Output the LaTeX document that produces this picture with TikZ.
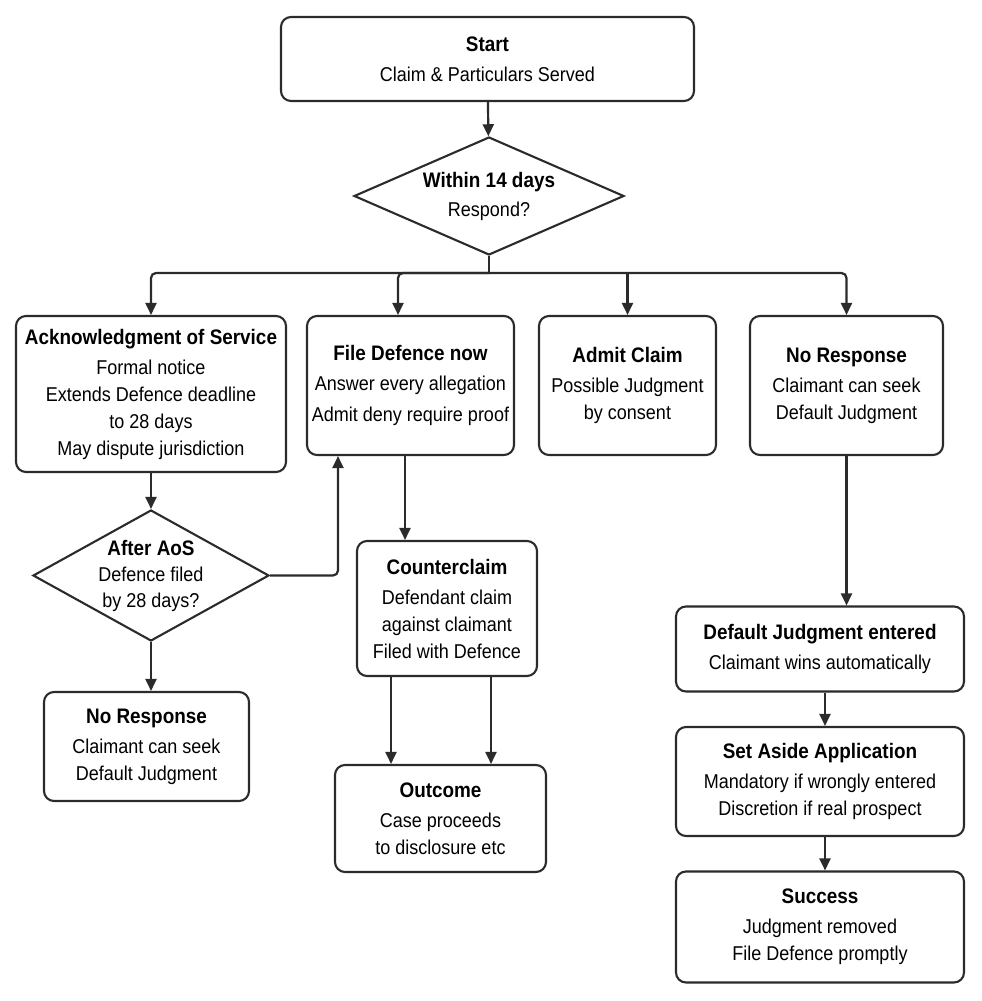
\documentclass[tikz,border=0pt]{standalone}
\usepackage{fontspec}
\setmainfont{Liberation Sans}[FakeStretch=0.9]
\usetikzlibrary{shapes.geometric,arrows.meta}

\definecolor{linecol}{HTML}{2B2B2B}
\newcommand{\hd}[1]{{\bfseries\fontsize{21}{27}\selectfont #1}\\[3pt]}

\tikzset{
    box/.style={rectangle, draw=linecol, line width=2.1pt, rounded corners=10pt, fill=white,
        align=center, inner sep=0pt, font=\fontsize{20}{27}\selectfont},
    decision/.style={diamond, draw=linecol, line width=2.1pt, fill=white,
        align=center, inner sep=0pt, font=\fontsize{20}{26}\selectfont},
    line/.style={draw=linecol, line width=2.2pt},
    arrow/.style={line, -{Triangle[length=12pt,width=11pt]}}
}

\begin{document}
\begin{tikzpicture}[x=1pt, y=-1pt]
    \useasboundingbox[fill=white] (0,0) rectangle (982,1001);

    \node[box, minimum width=413pt, minimum height=84pt] (start) at (487.5, 59) {\hd{Start}Claim \& Particulars Served};
    \node[decision, aspect=2.3, minimum width=270pt, minimum height=118pt] (within) at (489, 196) {\hd{Within 14 days}Respond?};

    \node[box, minimum width=270pt, minimum height=156pt] (aos) at (151, 394) {\hd{Acknowledgment of Service}Formal notice\\Extends Defence deadline\\to 28 days\\May dispute jurisdiction};
    \node[box, minimum width=207pt, minimum height=139pt] (defence) at (410.5, 385.5) {\hd{File Defence now}Answer every allegation\\[4pt]Admit deny require proof};
    \node[box, minimum width=177pt, minimum height=139pt] (admit) at (627.5, 385.5) {\hd{Admit Claim}Possible Judgment\\by consent};
    \node[box, minimum width=193pt, minimum height=139pt] (noresp) at (846.5, 385.5) {\hd{No Response}Claimant can seek\\Default Judgment};

    \node[decision, aspect=1.8, minimum width=236pt, minimum height=131pt] (after) at (151, 575.5) {{\bfseries\fontsize{21}{26}\selectfont After AoS}\\Defence filed\\by 28 days?};
    \node[box, minimum width=205pt, minimum height=109pt] (noresp2) at (146.5, 746.5) {\hd{No Response}Claimant can seek\\Default Judgment};

    \node[box, minimum width=180pt, minimum height=135pt] (counter) at (447, 608.5) {\hd{Counterclaim}Defendant claim\\against claimant\\Filed with Defence};
    \node[box, minimum width=211pt, minimum height=107pt] (outcome) at (440.5, 818.5) {\hd{Outcome}Case proceeds\\to disclosure etc};

    \node[box, minimum width=288pt, minimum height=85pt] (default) at (820, 649) {\hd{Default Judgment entered}Claimant wins automatically};
    \node[box, minimum width=288pt, minimum height=109pt] (setaside) at (820, 781.5) {\hd{Set Aside Application}Mandatory if wrongly entered\\Discretion if real prospect};
    \node[box, minimum width=288pt, minimum height=111pt] (success) at (820, 927) {\hd{Success}Judgment removed\\File Defence promptly};

    \coordinate (split) at (489, 273);

    \draw[arrow] (start) -- (within);
    \draw[line] (within.south) -- (split);
    \draw[arrow, rounded corners=5pt] (split) -| (aos.north);
    \draw[arrow, rounded corners=5pt] (split) -| ([xshift=-12.5pt]defence.north);
    \draw[arrow] (split) -| (admit.north);
    \draw[arrow, rounded corners=5pt] (split) -| (noresp.north);

    \draw[arrow] (aos) -- (after);
    \draw[arrow, rounded corners=5pt] (after.east) -| ([xshift=-72.5pt]defence.south);
    \draw[arrow] (after) -- (after |- noresp2.north);

    \draw[arrow] ([xshift=-5.5pt]defence.south) -- ([xshift=-42pt]counter.north);
    \draw[arrow] ([xshift=-56pt]counter.south) -- ([xshift=-49.5pt]outcome.north);
    \draw[arrow] ([xshift=44pt]counter.south) -- ([xshift=50.5pt]outcome.north);

    \draw[arrow] (noresp.south) -- (noresp.south |- default.north);
    \draw[arrow] ([xshift=5pt]default.south) -- ([xshift=5pt]setaside.north);
    \draw[arrow] ([xshift=5pt]setaside.south) -- ([xshift=5pt]success.north);
\end{tikzpicture}
\end{document}
